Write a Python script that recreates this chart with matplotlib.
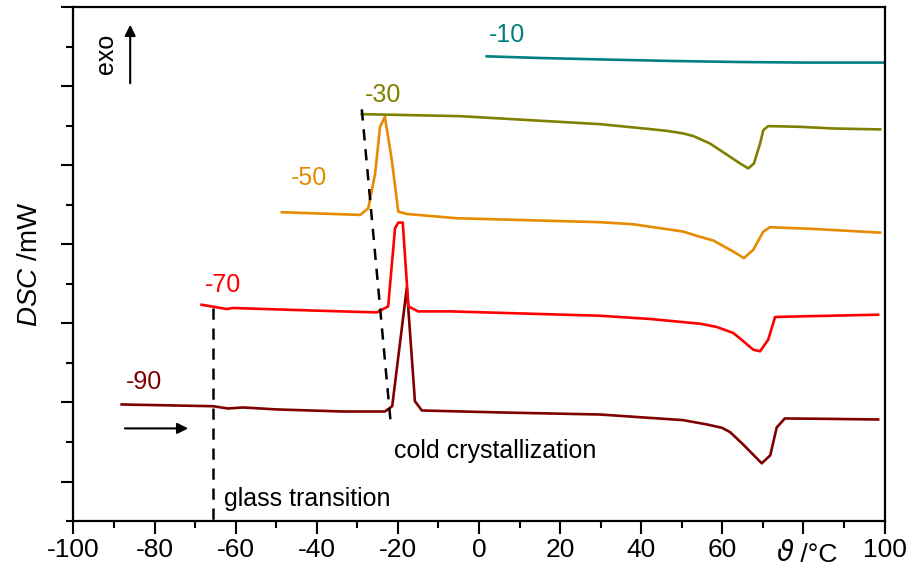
import matplotlib
matplotlib.use("Agg")
import matplotlib.pyplot as plt
from matplotlib.ticker import MultipleLocator, FixedLocator
import matplotlib.transforms as mtransforms

plt.rcParams['font.family'] = ['Liberation Sans', 'DejaVu Sans']
plt.rcParams['mathtext.fontset'] = 'custom'
plt.rcParams['mathtext.it'] = 'Liberation Sans:italic'
plt.rcParams['mathtext.rm'] = 'Liberation Sans'

# DSC heating traces, labelled by the starting temperature (°C)
x_m90 = [-88.1, -65.6, -61.9, -58.2, -49.8, -33.5, -23.2, -21.4, -17.8, -15.8, -14.1,
         5.2, 29.8, 50.3, 56.2, 59.9, 61.9, 65.1, 69.7, 71.8, 73.4, 75.4, 84.1, 98.4]
y_m90 = [0.975, 0.953, 0.924, 0.937, 0.912, 0.886, 0.886, 0.953, 2.452, 1.016, 0.899,
         0.874, 0.848, 0.777, 0.722, 0.680, 0.625, 0.470, 0.230, 0.331, 0.684, 0.798,
         0.794, 0.785]

x_m70 = [-68.4, -62.2, -60.7, -41.7, -25.2, -22.4, -20.7, -19.9, -18.8, -17.4, -15.0,
         -7.1, 29.8, 42.2, 54.5, 58.6, 62.7, 65.2, 67.6, 69.3, 71.3, 73.0, 79.1, 98.4]
y_m70 = [2.237, 2.183, 2.196, 2.165, 2.140, 2.216, 3.206, 3.277, 3.277, 2.216, 2.153,
         2.153, 2.098, 2.057, 1.997, 1.956, 1.880, 1.774, 1.669, 1.648, 1.795, 2.082,
         2.090, 2.111]

x_m50 = [-48.6, -29.3, -27.3, -25.6, -24.4, -23.2, -21.5, -19.9, -17.8, -5.5, 29.8,
         38.0, 50.4, 53.7, 57.8, 62.7, 65.3, 67.6, 70.1, 71.7, 82.4, 98.9]
y_m50 = [3.408, 3.374, 3.458, 3.900, 4.489, 4.615, 4.068, 3.415, 3.386, 3.332, 3.282,
         3.256, 3.163, 3.109, 3.049, 2.910, 2.827, 2.932, 3.163, 3.218, 3.197, 3.150]

x_m30 = [-28.9, -4.7, 12.6, 29.8, 42.2, 46.3, 50.4, 52.9, 56.9, 61.9, 64.3, 66.4, 67.8,
         69.3, 70.1, 71.3, 79.1, 87.4, 98.9]
y_m30 = [4.649, 4.624, 4.573, 4.523, 4.460, 4.438, 4.405, 4.371, 4.279, 4.110, 4.027,
         3.963, 4.027, 4.279, 4.447, 4.498, 4.489, 4.468, 4.456]

x_m10 = [1.9, 15.0, 31.5, 47.9, 64.4, 80.8, 99.7]
y_m10 = [5.381, 5.360, 5.340, 5.322, 5.309, 5.302, 5.302]

series = [
    ("-90", x_m90, y_m90, "#800000", (-82.6, 1.26)),
    ("-70", x_m70, y_m70, "#FF0000", (-63.1, 2.49)),
    ("-50", x_m50, y_m50, "#E68A00", (-41.9, 3.84)),
    ("-30", x_m30, y_m30, "#808000", (-23.7, 4.89)),
    ("-10", x_m10, y_m10, "#008080", (6.9, 5.65)),
]

# guide lines for the glass transition and the cold crystallization onset
glass_x = [-65.6, -65.6]
glass_y = [2.20, -0.5]
cryst_x = [-28.9, -21.7]
cryst_y = [4.71, 0.70]

x_ticks = [-100, -80, -60, -40, -20, 0, 20, 40, 60, 80, 100]
x_tick_labels = ["-100", "-80", "-60", "-40", "-20", "0", "20", "40", "60", "", "100"]

fig = plt.figure(figsize=(9.13, 5.80), dpi=100)
ax = fig.add_axes([0.0804, 0.1017, 0.8885, 0.8855])

for label, xs, ys, color, (lx, ly) in series:
    ax.plot(xs, ys, color=color, lw=1.9, solid_joinstyle='round')
    ax.text(lx, ly, label, color=color, fontsize=18, ha='center', va='center')

dash = (0, (4.5, 3.5))
ax.plot(glass_x, glass_y, color='black', lw=1.8, linestyle=dash, clip_on=False)
ax.plot(cryst_x, cryst_y, color='black', lw=1.8, linestyle=dash)

ax.text(-62.9, -0.22, "glass transition", fontsize=18, ha='left', va='center')
ax.text(-21.0, 0.38, "cold crystallization", fontsize=18, ha='left', va='center')

# heating direction and exotherm direction
ax.annotate("", xy=(-71.7, 0.672), xytext=(-87.3, 0.672),
            arrowprops=dict(arrowstyle='-|>', color='black', lw=1.5,
                            mutation_scale=16, shrinkA=0, shrinkB=0))
ax.annotate("", xy=(-86.0, 5.78), xytext=(-86.0, 5.04),
            arrowprops=dict(arrowstyle='-|>', color='black', lw=1.5,
                            mutation_scale=16, shrinkA=0, shrinkB=0))
ax.text(-92.0, 5.41, "exo", fontsize=18, rotation=90, ha='center', va='center')

ax.set_xlim(-100, 100)
ax.set_ylim(-0.5, 6)
ax.xaxis.set_major_locator(FixedLocator(x_ticks))
ax.set_xticklabels(x_tick_labels)
ax.xaxis.set_minor_locator(MultipleLocator(10))
ax.yaxis.set_major_locator(MultipleLocator(1))
ax.yaxis.set_minor_locator(MultipleLocator(0.5))
ax.set_yticklabels([])
ax.tick_params(which='major', direction='out', length=9, width=1.5,
               labelsize=19, top=False, right=False, pad=3)
ax.tick_params(which='minor', direction='out', length=5, width=1.5,
               top=False, right=False)
for sp in ax.spines.values():
    sp.set_linewidth(1.6)

ax.set_ylabel(r"$\mathit{DSC}$ /mW", fontsize=20, labelpad=10)

# x-axis quantity: italic theta followed by the unit
trans = mtransforms.blended_transform_factory(ax.transData, fig.transFigure)
ax.text(75.5, 0.022, "ϑ", fontsize=20, ha='center', va='bottom',
        transform=trans, family=['DejaVu Sans'], style='italic')
ax.text(77.5, 0.022, " /°C", fontsize=19, ha='left', va='bottom', transform=trans)

fig.savefig("out.png", dpi=100)
